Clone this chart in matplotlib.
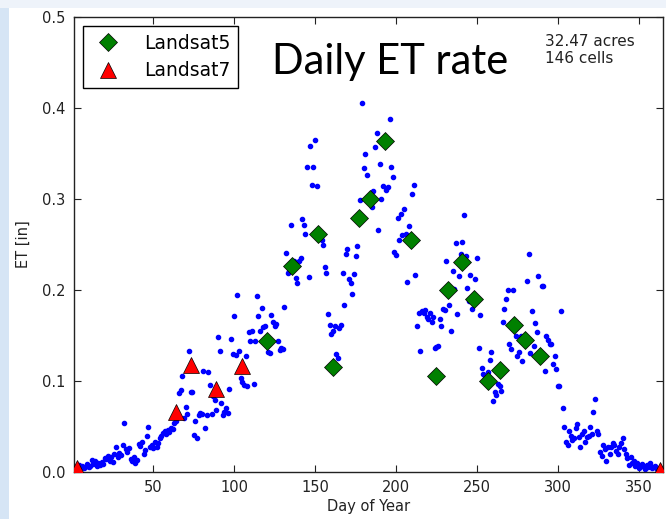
import numpy as np
import matplotlib
matplotlib.use("Agg")
import matplotlib.pyplot as plt
from matplotlib.patches import Rectangle

# daily ET values, day 1..365
et_daily = [
    0.004, 0.006, 0.003, 0.008, 0.005, 0.007, 0.004, 0.006, 0.009, 0.005,
    0.007, 0.013, 0.009, 0.012, 0.007, 0.010, 0.008, 0.011, 0.009, 0.015,
    0.014, 0.018, 0.012, 0.017, 0.011, 0.020, 0.028, 0.016, 0.021, 0.019,
    0.030, 0.054, 0.025, 0.022, 0.026, 0.014, 0.012, 0.016, 0.010, 0.013,
    0.031, 0.029, 0.033, 0.020, 0.024, 0.040, 0.050, 0.028, 0.030, 0.026,
    0.033, 0.028, 0.032, 0.037, 0.040, 0.043, 0.045, 0.042, 0.046, 0.044,
    0.048, 0.047, 0.054, 0.056, 0.061, 0.087, 0.090, 0.105, 0.059, 0.071,
    0.064, 0.133, 0.088, 0.088, 0.041, 0.056, 0.037, 0.063, 0.065, 0.064,
    0.111, 0.048, 0.063, 0.110, 0.096, 0.064, 0.083, 0.079, 0.068, 0.148,
    0.133, 0.076, 0.063, 0.066, 0.070, 0.065, 0.091, 0.146, 0.130, 0.171,
    0.129, 0.195, 0.133, 0.103, 0.099, 0.096, 0.127, 0.094, 0.154, 0.144,
    0.155, 0.097, 0.144, 0.193, 0.171, 0.155, 0.180, 0.159, 0.160, 0.145,
    0.132, 0.131, 0.172, 0.165, 0.160, 0.163, 0.144, 0.134, 0.136, 0.135,
    0.181, 0.241, 0.219, 0.221, 0.271, 0.225, 0.232, 0.213, 0.208, 0.232,
    0.235, 0.278, 0.271, 0.262, 0.335, 0.214, 0.358, 0.315, 0.335, 0.365,
    0.314, 0.262, 0.258, 0.255, 0.249, 0.225, 0.219, 0.174, 0.162, 0.152,
    0.155, 0.160, 0.130, 0.125, 0.158, 0.162, 0.219, 0.183, 0.240, 0.245,
    0.212, 0.208, 0.196, 0.218, 0.237, 0.248, 0.279, 0.299, 0.406, 0.334,
    0.350, 0.326, 0.300, 0.299, 0.291, 0.309, 0.357, 0.373, 0.266, 0.338,
    0.300, 0.314, 0.364, 0.310, 0.313, 0.388, 0.335, 0.324, 0.242, 0.238,
    0.279, 0.255, 0.283, 0.260, 0.289, 0.262, 0.209, 0.270, 0.255, 0.305,
    0.315, 0.217, 0.160, 0.175, 0.133, 0.177, 0.175, 0.178, 0.170, 0.168,
    0.175, 0.165, 0.170, 0.136, 0.137, 0.138, 0.168, 0.160, 0.179, 0.178,
    0.232, 0.200, 0.184, 0.155, 0.221, 0.201, 0.252, 0.174, 0.215, 0.240,
    0.253, 0.282, 0.237, 0.202, 0.188, 0.216, 0.179, 0.190, 0.212, 0.235,
    0.136, 0.173, 0.114, 0.108, 0.103, 0.100, 0.110, 0.123, 0.132, 0.078,
    0.088, 0.085, 0.097, 0.094, 0.089, 0.165, 0.179, 0.190, 0.200, 0.141,
    0.135, 0.200, 0.162, 0.150, 0.127, 0.132, 0.150, 0.122, 0.145, 0.148,
    0.210, 0.240, 0.131, 0.177, 0.139, 0.164, 0.154, 0.215, 0.128, 0.204,
    0.204, 0.111, 0.150, 0.145, 0.141, 0.141, 0.119, 0.127, 0.113, 0.095,
    0.095, 0.177, 0.070, 0.050, 0.033, 0.030, 0.045, 0.040, 0.035, 0.037,
    0.048, 0.053, 0.038, 0.028, 0.042, 0.045, 0.033, 0.038, 0.040, 0.050,
    0.042, 0.066, 0.080, 0.045, 0.042, 0.022, 0.018, 0.030, 0.025, 0.012,
    0.027, 0.020, 0.028, 0.032, 0.030, 0.023, 0.020, 0.028, 0.032, 0.037,
    0.025, 0.020, 0.015, 0.008, 0.017, 0.010, 0.012, 0.007, 0.010, 0.004,
    0.007, 0.009, 0.005, 0.003, 0.008, 0.005, 0.010, 0.004, 0.006, 0.007,
    0.003, 0.002, 0.004, 0.002, 0.001,
]
days = np.arange(1, len(et_daily) + 1)

l5_days = [120, 136, 152, 161, 177, 184, 193, 209, 225, 232, 241, 248, 257, 264, 273, 280, 289]
l5_et = [0.144, 0.226, 0.261, 0.115, 0.279, 0.300, 0.364, 0.255, 0.106, 0.200,
         0.231, 0.190, 0.100, 0.112, 0.162, 0.145, 0.127]

l7_days = [3, 64, 73, 89, 105, 363]
l7_et = [0.004, 0.066, 0.118, 0.091, 0.117, 0.002]

fig = plt.figure(figsize=(6.66, 5.19), dpi=100)
fig.patch.set_facecolor("white")

# light slide background strips
fig.patches.append(Rectangle((0, 0), 9 / 666, 1, transform=fig.transFigure,
                             facecolor="#d6e5f5", edgecolor="none", zorder=0))
fig.patches.append(Rectangle((0, 1 - 8 / 519), 1, 8 / 519, transform=fig.transFigure,
                             facecolor="#eef3fa", edgecolor="none", zorder=0))

ax = fig.add_axes([74 / 666, 47 / 519, 589 / 666, 455 / 519])

ax.plot(days, et_daily, ".", color="blue", ms=6, mec="blue", zorder=2)
ax.plot(l5_days, l5_et, "D", color="green", ms=9, mec="black", mew=0.5,
        label="Landsat5", zorder=3)
ax.plot(l7_days, l7_et, "^", color="red", ms=11, mec="black", mew=0.5,
        label="Landsat7", zorder=3)

ax.set_xlim(1, 365)
ax.set_ylim(0, 0.5)
ax.set_xticks([50, 100, 150, 200, 250, 300, 350])
ax.set_yticks([0.0, 0.1, 0.2, 0.3, 0.4, 0.5])
ax.tick_params(direction="in", top=True, right=True, length=5, width=0.8,
               labelsize=10.5, colors="#222222", pad=6)
for s in ax.spines.values():
    s.set_linewidth(1.0)
    s.set_color("#222222")

ax.set_xlabel("Day of Year", fontsize=10.5, color="#222222", labelpad=3)
ax.set_ylabel("ET [in]", fontsize=10.5, color="#222222", labelpad=8)

leg = ax.legend(loc="upper left", numpoints=1, fontsize=13.5, fancybox=False,
                framealpha=1, edgecolor="black", borderaxespad=0.5,
                handletextpad=1.05, borderpad=0.4, labelspacing=0.45,
                handlelength=1.8)
leg.get_frame().set_linewidth(1.0)

fig.text(272 / 666, (519 - 74) / 519, "Daily ET rate", family="Lato",
         fontsize=30, va="baseline", ha="left")
fig.text(545 / 666, (519 - 34) / 519, "32.47 acres\n146 cells", fontsize=11,
         va="top", ha="left", color="#222222", linespacing=1.15)

fig.savefig("out.png", dpi=100)
